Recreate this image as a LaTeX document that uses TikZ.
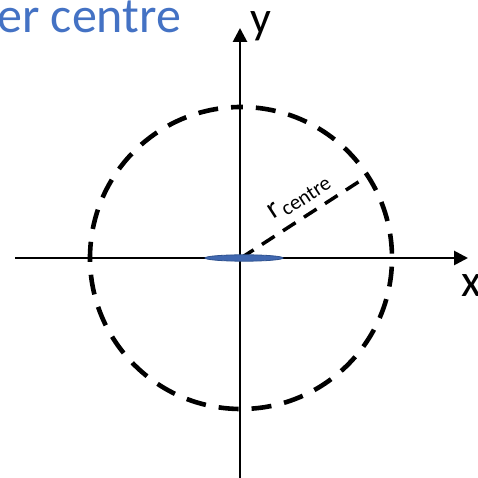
\documentclass[tikz,border=0pt]{standalone}
\usepackage{fontspec}
\setmainfont{Carlito}
\usetikzlibrary{arrows.meta,shapes.geometric}
\definecolor{titleblue}{HTML}{4472C4}
\definecolor{ellfill}{HTML}{4168B0}
\definecolor{elldraw}{HTML}{2F528F}
\tikzset{
  axis/.style={line width=2.7pt, -{Triangle[length=14pt,width=14pt]}},
  ringdash/.style={line width=4.6pt, dash pattern=on 20pt off 13pt, dash phase=10pt},
  raddash/.style={line width=3.5pt, dash pattern=on 15pt off 10pt},
  lbl/.style={inner sep=0pt, anchor=base west},
  disc/.style={ellipse, fill=ellfill, draw=elldraw, line width=0.8pt, inner sep=0pt, minimum width=78pt, minimum height=6.4pt}
}
\begin{document}
\begin{tikzpicture}[x=1pt,y=1pt]
\useasboundingbox (0,0) rectangle (477,478);
\coordinate (C) at (241,220);
\coordinate (ybot) at (240,0);
\coordinate (ytop) at (240,450);
\coordinate (xleft) at (15,220);
\coordinate (xright) at (468,220);
\coordinate (R) at (363,299);
% title
\node[lbl, text=titleblue, font=\fontsize{50}{50}\selectfont] (title) at (-3,445) {er centre};
% dashed circle
\draw[ringdash] (241,371) arc[start angle=90, end angle=450, radius=151];
% axes
\draw[axis] (ybot) -- (ytop);
\draw[axis] (xleft) -- (xright);
\node[lbl, font=\fontsize{46}{46}\selectfont] (ylab) at (250,444) {y};
\node[lbl, font=\fontsize{46}{46}\selectfont] (xlab) at (461,181) {x};
% radius
\draw[raddash] (C) -- (R);
\node[inner sep=0pt, rotate=33] (rlab) at (299,281)
  {\fontsize{30}{30}\selectfont r\hspace{2pt}\raisebox{-5pt}{\fontsize{21}{21}\selectfont centre}};
% blue ellipse
\node[disc] (disc) at (244,220) {};
\end{tikzpicture}
\end{document}
